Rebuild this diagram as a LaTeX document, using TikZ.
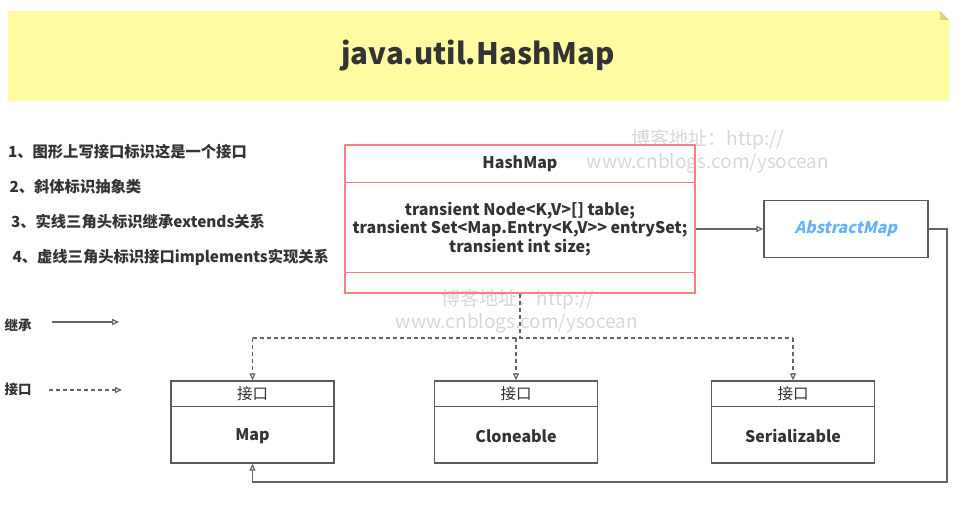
\documentclass[tikz,border=0pt]{standalone}
\usepackage{fontspec}
\setmainfont{Noto Sans CJK SC}
\newfontfamily\slantfont{Noto Sans CJK SC}[FakeSlant=0.22]
\usetikzlibrary{positioning,arrows.meta}

\definecolor{notebg}{RGB}{255,251,163}
\definecolor{notefold}{RGB}{214,210,135}
\definecolor{inkgray}{RGB}{51,51,51}
\definecolor{boxgray}{RGB}{90,90,90}
\definecolor{linegray}{RGB}{100,100,100}
\definecolor{redline}{RGB}{242,130,130}
\definecolor{absblue}{RGB}{102,178,255}
\definecolor{wmgray}{RGB}{215,215,215}

\begin{document}
\begin{tikzpicture}[x=1bp,y=-1bp,
    box/.style={draw=boxgray,line width=1.3bp,rectangle,inner sep=0pt},
    txt/.style={text=inkgray,font=\fontsize{16bp}{18.5bp}\selectfont\bfseries},
    notetxt/.style={text=inkgray,font=\fontsize{15.3bp}{18bp}\selectfont\bfseries},
    plain/.style={text=inkgray,font=\fontsize{15.5bp}{18bp}\selectfont},
    wm/.style={text=wmgray,font=\fontsize{19bp}{21bp}\selectfont},
    inherit/.style={draw=linegray,line width=1.2bp,-{Triangle[open,length=7bp,width=6bp]}},
    realize/.style={inherit,dash pattern=on 4bp off 3bp},
    dashline/.style={draw=linegray,line width=1.2bp,dash pattern=on 4bp off 3bp}]

\useasboundingbox (0,0) rectangle (959,508);

% title note
\fill[notebg] (8,11) -- (940,11) -- (949,20) -- (949,101) -- (8,101) -- cycle;
\fill[notefold] (940,11) -- (940,20) -- (949,20) -- cycle;
\node[text=inkgray,font=\fontsize{29.5bp}{34bp}\selectfont\bfseries] (title) at (478,56) {java.util.HashMap};

% notes
\foreach \i/\t in {1/图形上写接口标识这是一个接口, 2/斜体标识抽象类, 3/实线三角头标识继承extends关系, 4/虚线三角头标识接口implements实现关系} {
    \node[notetxt,anchor=west] (note\i) at ({3+1.5*\i},{152+35*(\i-1)}) {\i、\t};
}

% watermarks
\node[wm] (wmA) at (708,140) {博客地址：http://};
\node[wm] (wmB) at (708,163) {www.cnblogs.com/ysocean};
\node[wm] (wmC) at (518,300) {博客地址：http://};
\node[wm] (wmD) at (517,323) {www.cnblogs.com/ysocean};

% classes
\node[box,draw=redline,minimum width=350bp,minimum height=148bp] (hashmap) at (520,219) {};
\draw[redline,line width=1.3bp] ([yshift=-38bp]hashmap.north west) -- ([yshift=-38bp]hashmap.north east);
\draw[redline,line width=1.3bp] ([yshift=-128bp]hashmap.north west) -- ([yshift=-128bp]hashmap.north east);
\node[txt] (hashname) at (520,164) {HashMap};
\node[txt,align=center] (fields) at (520,229) {transient Node<K,V>[] table;\\transient Set<Map.Entry<K,V>{}> entrySet;\\transient int size;};

\node[box,minimum width=164bp,minimum height=57bp,text=absblue,font=\fontsize{16bp}{18bp}\slantfont\bfseries] (abstract) at (846,229) {AbstractMap};

\foreach \n/\x/\t in {map/252.5/Map, clone/516/Cloneable, serial/793/Serializable} {
    \node[box,minimum width=163bp,minimum height=82bp] (\n) at (\x,422) {};
    \draw[boxgray,line width=1.3bp] ([yshift=-26bp]\n.north west) -- ([yshift=-26bp]\n.north east);
    \node[plain] (\n-head) at (\x,394) {接口};
    \node[txt] (\n-name) at (\x,436) {\t};
}

% connectors
\coordinate (forkline) at (0,338);
\coordinate (corner) at (947,482);
\draw[dashline] (hashmap.south) -- (hashmap.south |- forkline) coordinate (fork);
\draw[dashline] (map.north |- fork) -- (serial.north |- fork);
\foreach \n in {map,clone,serial} {
    \draw[realize] (\n.north |- fork) -- (\n.north);
}
\draw[inherit] (hashmap.east |- abstract.west) -- (abstract.west);
\draw[inherit] (abstract.east) -| (corner) -| (map.south);

% legend
\node[txt,font=\fontsize{13.5bp}{15bp}\selectfont\bfseries,anchor=west] (extlabel) at (1,325) {继承};
\node[txt,font=\fontsize{13.5bp}{15bp}\selectfont\bfseries,anchor=west] (implabel) at (1,389) {接口};
\draw[inherit] ([xshift=17bp,yshift=3bp]extlabel.east) -- ++(67,0);
\draw[realize] ([xshift=14bp,yshift=-1bp]implabel.east) -- ++(73,0);
\end{tikzpicture}
\end{document}
